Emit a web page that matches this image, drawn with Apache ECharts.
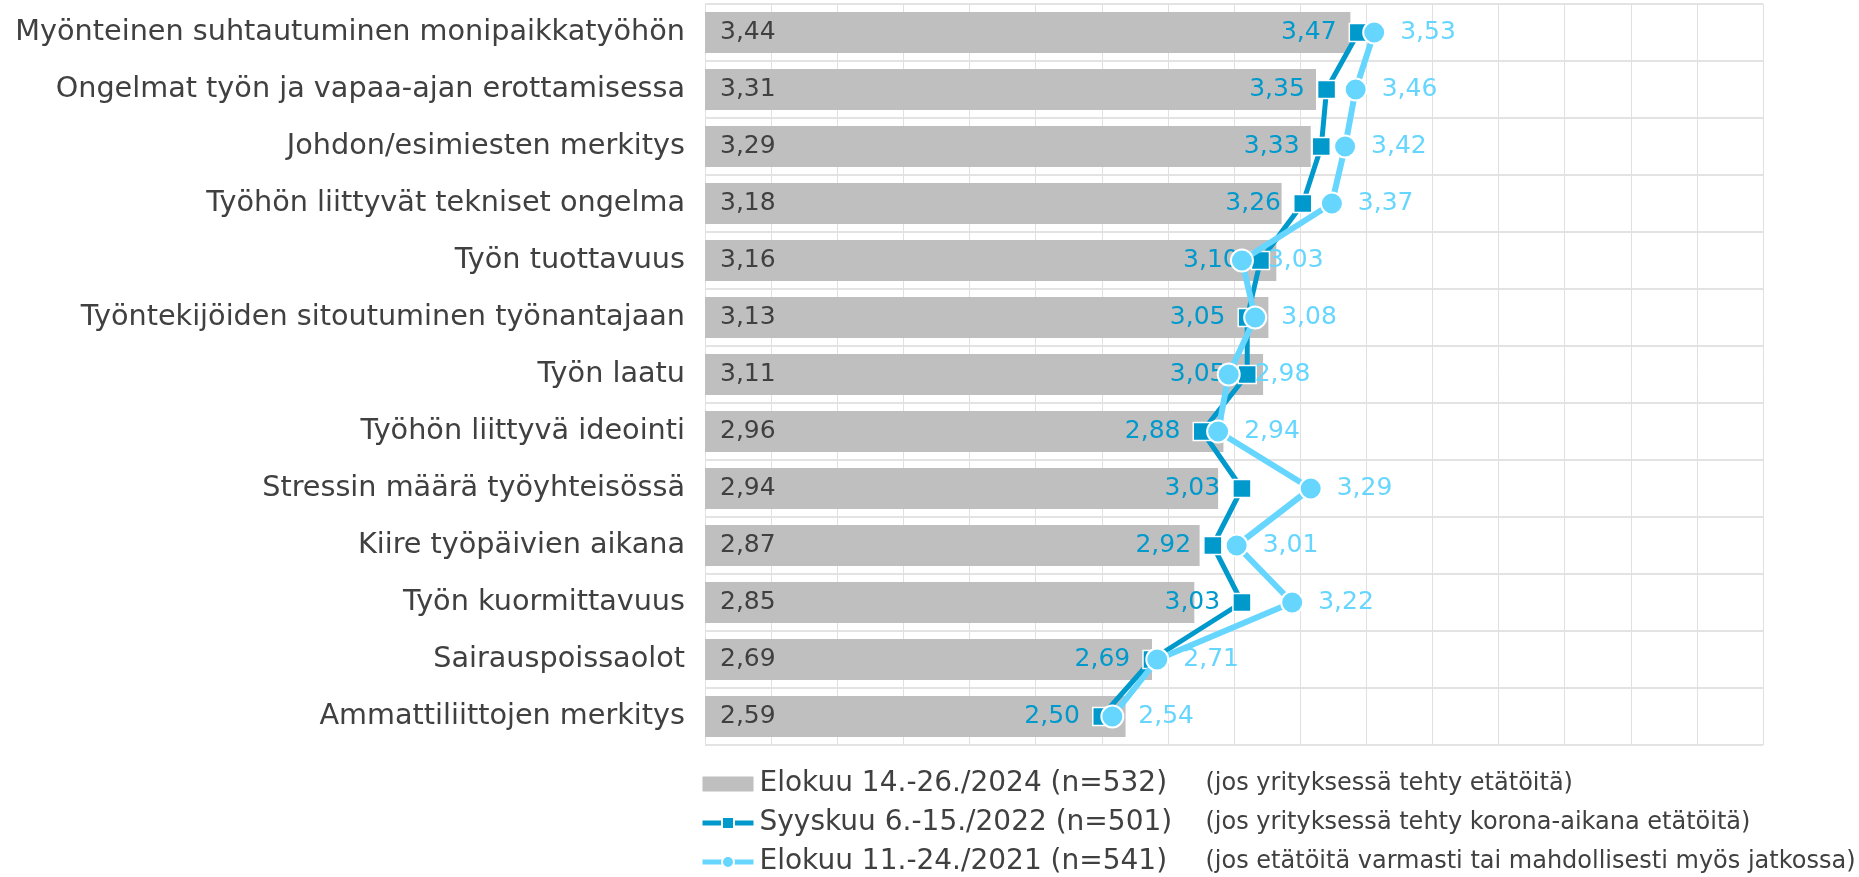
<!DOCTYPE html>
<html>
<head>
<meta charset="utf-8">
<script src="https://cdn.jsdelivr.net/npm/echarts@6/dist/echarts.min.js"></script>
<style>
  html, body { margin: 0; padding: 0; background: #fff; }
  #chart { width: 1859px; height: 877px; }
</style>
</head>
<body>
<div id="chart"></div>
<script>
// kategoriat ylhäältä alas
var categories = [
  'Myönteinen suhtautuminen monipaikkatyöhön',
  'Ongelmat työn ja vapaa-ajan erottamisessa',
  'Johdon/esimiesten merkitys',
  'Työhön liittyvät tekniset ongelma',
  'Työn tuottavuus',
  'Työntekijöiden sitoutuminen työnantajaan',
  'Työn laatu',
  'Työhön liittyvä ideointi',
  'Stressin määrä työyhteisössä',
  'Kiire työpäivien aikana',
  'Työn kuormittavuus',
  'Sairauspoissaolot',
  'Ammattiliittojen merkitys'
];

var seriesNames = [
  'Elokuu 14.-26./2024 (n=532)',
  'Syyskuu 6.-15./2022 (n=501)',
  'Elokuu 11.-24./2021 (n=541)'
];

var seriesNotes = [
  '(jos yrityksessä tehty etätöitä)',
  '(jos yrityksessä tehty korona-aikana etätöitä)',
  '(jos etätöitä varmasti tai mahdollisesti myös jatkossa)'
];

var values2024 = [3.44, 3.31, 3.29, 3.18, 3.16, 3.13, 3.11, 2.96, 2.94, 2.87, 2.85, 2.69, 2.59];
var values2022 = [3.47, 3.35, 3.33, 3.26, 3.10, 3.05, 3.05, 2.88, 3.03, 2.92, 3.03, 2.69, 2.50];
var values2021 = [3.53, 3.46, 3.42, 3.37, 3.03, 3.08, 2.98, 2.94, 3.29, 3.01, 3.22, 2.71, 2.54];

var FONT = 'DejaVu Sans';
var GREY = '#bfbfbf';
var DARK = '#0099cc';
var LIGHT = '#66d6ff';

function fmt(p) {
  return p.value.toFixed(2).replace('.', ',');
}

var myChart = echarts.init(document.getElementById('chart'));

myChart.setOption({
  animation: false,
  textStyle: { fontFamily: FONT },
  grid: {
    left: 705,
    right: 96,
    top: 4,
    bottom: 132,
    containLabel: false
  },
  legend: {
    orient: 'vertical',
    left: 700,
    top: 770,
    padding: 0,
    itemWidth: 51,
    itemHeight: 15,
    itemGap: 11,
    data: [
      { name: seriesNames[0], icon: 'rect' },
      { name: seriesNames[1], lineStyle: { width: 5 } },
      { name: seriesNames[2], lineStyle: { width: 5 } }
    ],
    formatter: function(name) {
      var i = seriesNames.indexOf(name);
      return '{a|' + name + '}{b|' + seriesNotes[i] + '}';
    },
    textStyle: {
      color: '#404040',
      padding: [0, 0, 0, 1],
      rich: {
        a: { fontFamily: FONT, fontSize: 28, color: '#404040', width: 446, lineHeight: 30 },
        b: { fontFamily: FONT, fontSize: 24, color: '#404040', lineHeight: 30 }
      }
    }
  },
  xAxis: {
    type: 'value',
    min: 1,
    max: 5,
    interval: 0.25,
    axisLabel: { show: false },
    axisLine: { show: false },
    axisTick: { show: false },
    splitLine: { show: true, lineStyle: { color: '#e0e0e0', width: 1 } }
  },
  yAxis: {
    type: 'category',
    inverse: true,
    data: categories,
    axisLine: { show: false },
    axisTick: { show: false },
    axisLabel: { fontFamily: FONT, fontSize: 28.7, color: '#404040', margin: 20 },
    splitLine: { show: true, lineStyle: { color: '#e3e3e3', width: 2 } }
  },
  series: [{
    name: seriesNames[0],
    type: 'bar',
    barWidth: 41,
    itemStyle: { color: GREY },
    label: {
      show: true,
      position: 'insideLeft',
      distance: 15,
      fontFamily: FONT,
      fontSize: 25,
      color: '#404040',
      formatter: fmt
    },
    data: values2024
  }, {
    name: seriesNames[1],
    type: 'line',
    symbol: 'rect',
    symbolSize: 18,
    lineStyle: { color: DARK, width: 5 },
    itemStyle: { color: DARK, borderColor: '#fff', borderWidth: 1.5 },
    label: {
      show: true,
      position: 'left',
      distance: 12,
      fontFamily: FONT,
      fontSize: 25,
      color: DARK,
      formatter: fmt
    },
    z: 3,
    data: values2022
  }, {
    name: seriesNames[2],
    type: 'line',
    symbol: 'circle',
    symbolSize: 22,
    lineStyle: { color: LIGHT, width: 6 },
    itemStyle: { color: LIGHT, borderColor: '#fff', borderWidth: 2 },
    label: {
      show: true,
      position: 'right',
      distance: 14,
      fontFamily: FONT,
      fontSize: 25,
      color: LIGHT,
      formatter: fmt
    },
    z: 4,
    data: values2021
  }]
});
</script>
</body>
</html>
